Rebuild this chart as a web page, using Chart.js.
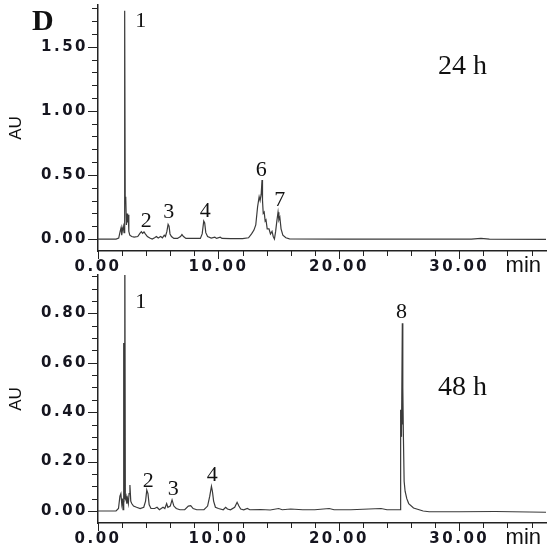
<!DOCTYPE html>
<html><head><meta charset="utf-8">
<script src="https://cdn.jsdelivr.net/npm/chart.js@4.4.1/dist/chart.umd.min.js"></script>
<style>
html,body{margin:0;padding:0;background:#fff;width:550px;height:550px;overflow:hidden}
#c1{position:absolute;left:0;top:0}
#c2{position:absolute;left:0;top:265px}
</style></head><body>
<canvas id="c1" width="550" height="275"></canvas>
<canvas id="c2" width="550" height="285"></canvas>
<script>
// ---------- DATA ----------
// 24 h chromatogram: retention time (min) and absorbance (AU)
const time24 = [0.00,1.50,1.72,1.84,1.92,1.97,2.03,2.10,2.16,2.20,2.23,2.26,2.29,2.32,2.36,2.41,2.46,2.51,2.56,2.64,2.80,3.00,3.30,3.48,3.60,3.70,3.82,3.93,4.10,4.30,4.50,4.70,4.85,5.00,5.20,5.35,5.50,5.60,5.72,5.82,5.90,5.98,6.10,6.30,6.60,6.85,6.97,7.10,7.30,8.00,8.50,8.65,8.78,8.86,8.95,9.10,9.40,9.70,9.85,10.15,10.30,11.00,12.00,12.50,12.75,12.95,13.10,13.25,13.38,13.46,13.55,13.62,13.66,13.72,13.80,13.88,13.95,14.05,14.20,14.32,14.45,14.55,14.65,14.75,14.85,14.95,15.02,15.10,15.20,15.35,15.60,15.90,20.00,25.00,31.00,31.80,32.50,37.20];
const au24   = [0.000,0.000,0.008,0.060,0.090,0.030,0.070,0.100,0.050,0.900,1.780,0.330,0.300,0.320,0.110,0.200,0.130,0.190,0.060,0.030,0.020,0.015,0.020,0.045,0.058,0.045,0.055,0.040,0.020,0.008,0.000,0.010,0.020,0.008,0.020,0.010,0.030,0.020,0.060,0.115,0.100,0.040,0.020,0.005,0.005,0.020,0.035,0.020,0.005,0.005,0.005,0.040,0.140,0.125,0.050,0.020,0.008,0.015,0.005,0.015,0.005,0.003,0.003,0.010,0.040,0.070,0.110,0.250,0.330,0.300,0.350,0.460,0.300,0.200,0.210,0.140,0.150,0.080,0.080,0.040,0.060,0.020,0.000,0.060,0.140,0.210,0.150,0.170,0.080,0.030,0.010,0.002,0.000,0.000,0.000,0.006,0.000,-0.003];

// 48 h chromatogram
const time48 = [0.00,1.50,1.70,1.82,1.90,1.97,2.02,2.08,2.12,2.15,2.18,2.21,2.24,2.27,2.33,2.39,2.45,2.52,2.58,2.65,2.72,2.80,2.95,3.20,3.50,3.80,3.95,4.05,4.15,4.25,4.40,4.70,4.90,5.10,5.40,5.55,5.70,5.80,6.00,6.15,6.30,6.50,6.80,7.20,7.50,7.70,7.90,8.20,8.80,9.10,9.28,9.42,9.50,9.60,9.75,10.00,10.40,10.60,10.75,11.00,11.35,11.55,11.70,11.85,12.10,12.40,12.60,13.50,14.30,15.00,15.30,16.00,17.00,18.00,19.20,19.60,21.00,23.50,24.00,25.10,25.13,25.20,25.27,25.30,25.32,25.36,25.42,25.50,25.64,25.80,26.20,27.00,27.50,30.00,33.00,37.20];
const au48   = [0.000,0.000,0.010,0.060,0.070,0.030,0.050,0.005,0.050,0.680,0.050,0.060,1.200,0.050,0.060,0.030,0.050,0.030,0.070,0.105,0.040,0.030,0.020,0.015,0.010,0.015,0.040,0.085,0.070,0.025,0.010,0.010,0.015,0.005,0.015,0.010,0.030,0.015,0.020,0.045,0.020,0.010,0.005,0.005,0.020,0.022,0.010,0.005,0.005,0.020,0.060,0.100,0.080,0.040,0.015,0.010,0.005,0.015,0.008,0.005,0.015,0.035,0.020,0.008,0.005,0.010,0.005,0.006,0.004,0.010,0.005,0.008,0.005,0.005,0.010,0.005,0.005,0.010,0.005,0.005,0.410,0.300,0.760,0.350,0.500,0.300,0.120,0.080,0.050,0.030,0.012,0.000,-0.003,-0.003,-0.002,-0.005];

// axis ticks
const xTicks = [0,2,4,6,8,10,12,14,16,18,20,22,24,26,28,30,32,34,36];
const xMajor = [0,10,20,30];
const xMajorLabels = ['0.00','10.00','20.00','30.00'];
const yTicks24 = [0,0.1,0.2,0.3,0.4,0.5,0.6,0.7,0.8,0.9,1.0,1.1,1.2,1.3,1.4,1.5,1.6,1.7,1.8];
const yMajor24 = [0,0.5,1.0,1.5];
const yMajorLabels24 = ['0.00','0.50','1.00','1.50'];
const yTicks48 = [0,0.05,0.1,0.15,0.2,0.25,0.3,0.35,0.4,0.45,0.5,0.55,0.6,0.65,0.7,0.75,0.8,0.85,0.9,0.95];
const yMajor48 = [0,0.2,0.4,0.6,0.8];
const yMajorLabels48 = ['0.00','0.20','0.40','0.60','0.80'];

// peak labels (text, time in min, AU at text baseline)
const peakText24 = ['1','2','3','4','6','7'];
const peakTime24 = [3.55,4.01,5.88,8.90,13.55,15.09];
const peakAU24   = [1.653,0.094,0.164,0.172,0.495,0.26];
const peakText48 = ['1','2','3','4','8'];
const peakTime48 = [3.55,4.17,6.25,9.49,25.21];
const peakAU48   = [0.822,0.098,0.065,0.123,0.780];
const panelTitle24 = '24 h', panelTitleTime24 = 30.27, panelTitleAU24 = 1.287;
const panelTitle48 = '48 h', panelTitleTime48 = 30.27, panelTitleAU48 = 0.47;

// ---------- DRAWING ----------
const near = (a, b) => Math.abs(a - b) < 1e-6;

const panelPlugin = {
  id: 'panel',
  beforeDraw(chart) { chart.ctx.letterSpacing = '2.5px'; },
  afterDraw(chart, args, opts) {
    const ctx = chart.ctx;
    const xs = chart.scales.x, ys = chart.scales.y, ca = chart.chartArea;
    ctx.save();
    ctx.letterSpacing = '0px';
    ctx.strokeStyle = '#222';
    ctx.lineWidth = 1;
    // x ticks
    xTicks.forEach(v => {
      const px = Math.round(xs.getPixelForValue(v)) + 0.5;
      const len = xMajor.some(m => near(m, v)) ? 8 : 5;
      ctx.beginPath(); ctx.moveTo(px, ca.bottom); ctx.lineTo(px, ca.bottom + len); ctx.stroke();
    });
    // y ticks
    opts.yTicks.forEach(v => {
      const py = Math.round(ys.getPixelForValue(v)) + 0.5;
      const len = opts.yMajor.some(m => near(m, v)) ? 10 : 6;
      ctx.beginPath(); ctx.moveTo(ca.left - len, py); ctx.lineTo(ca.left, py); ctx.stroke();
    });
    // peak labels
    ctx.fillStyle = '#111';
    ctx.textAlign = 'center';
    ctx.textBaseline = 'alphabetic';
    ctx.font = '22px "Liberation Serif", serif';
    opts.peakText.forEach((t, i) => {
      ctx.fillText(t, xs.getPixelForValue(opts.peakTime[i]), ys.getPixelForValue(opts.peakAU[i]));
    });
    // panel title (24 h / 48 h)
    ctx.font = '28px "Liberation Serif", serif';
    ctx.fillText(opts.title, xs.getPixelForValue(opts.titleTime), ys.getPixelForValue(opts.titleAU));
    // "min" unit
    ctx.font = '22px "Liberation Sans", Arial, sans-serif';
    ctx.textAlign = 'right';
    ctx.fillText('min', 541, ca.bottom + 21);
    // "AU" axis title
    ctx.save();
    ctx.translate(16, (ca.top + ca.bottom) / 2);
    ctx.rotate(-Math.PI / 2);
    ctx.textAlign = 'center';
    ctx.textBaseline = 'middle';
    ctx.font = '17px "Liberation Sans", Arial, sans-serif';
    ctx.fillText('AU', 0, 0);
    ctx.restore();
    // panel letter
    if (opts.letter) {
      ctx.textAlign = 'left';
      ctx.font = 'bold 30px "Liberation Serif", serif';
      ctx.fillText(opts.letter, 32, 30);
    }
    ctx.restore();
  }
};

function makePanel(id, times, values, yMin, yMax, yTicks, yMajor, yMajorLabels, padTop, xAxisH, extra) {
  return new Chart(document.getElementById(id), {
    type: 'scatter',
    data: { datasets: [{
      data: times.map((t, i) => ({ x: t, y: values[i] })),
      showLine: true, borderColor: '#3a3a3a', borderWidth: 1.2,
      pointRadius: 0, pointHoverRadius: 0, tension: 0, fill: false
    }]},
    options: {
      responsive: false, animation: false, events: [],
      layout: { padding: { left: 0, right: 4, top: padTop, bottom: 0 } },
      plugins: {
        legend: { display: false }, tooltip: { enabled: false },
        panel: Object.assign({ yTicks, yMajor }, extra)
      },
      scales: {
        x: {
          type: 'linear', min: 0, max: 37.2,
          afterBuildTicks: s => { s.ticks = xTicks.map(v => ({ value: v })); },
          ticks: {
            autoSkip: false, maxRotation: 0, minRotation: 0, padding: 7, color: '#15151f',
            font: { family: '"DejaVu Sans"', size: 15, weight: 'bold' },
            callback: v => { const i = xMajor.findIndex(m => near(m, v)); return i >= 0 ? xMajorLabels[i] : ''; }
          },
          grid: { display: true, drawOnChartArea: false, drawTicks: false },
          border: { display: true, color: '#222', width: 1.5 },
          afterFit: s => { s.height = xAxisH; s.paddingLeft = 0; s.paddingRight = 0; }
        },
        y: {
          type: 'linear', min: yMin, max: yMax,
          afterBuildTicks: s => { s.ticks = yTicks.map(v => ({ value: v })); },
          ticks: {
            autoSkip: false, padding: 10, color: '#15151f',
            font: { family: '"DejaVu Sans"', size: 15, weight: 'bold' },
            callback: v => { const i = yMajor.findIndex(m => near(m, v)); return i >= 0 ? yMajorLabels[i] : ''; }
          },
          grid: { display: true, drawOnChartArea: false, drawTicks: false },
          border: { display: true, color: '#222', width: 1.5 },
          afterFit: s => { s.width = 98; s.paddingTop = 0; s.paddingBottom = 0; }
        }
      }
    },
    plugins: [panelPlugin]
  });
}

makePanel('c1', time24, au24, -0.093, 1.825, yTicks24, yMajor24, yMajorLabels24, 5, 24, {
  peakText: peakText24, peakTime: peakTime24, peakAU: peakAU24,
  title: panelTitle24, titleTime: panelTitleTime24, titleAU: panelTitleAU24, letter: 'D'
});
makePanel('c2', time48, au48, -0.0486, 0.955, yTicks48, yMajor48, yMajorLabels48, 10, 27, {
  peakText: peakText48, peakTime: peakTime48, peakAU: peakAU48,
  title: panelTitle48, titleTime: panelTitleTime48, titleAU: panelTitleAU48, letter: ''
});
</script></body></html>
